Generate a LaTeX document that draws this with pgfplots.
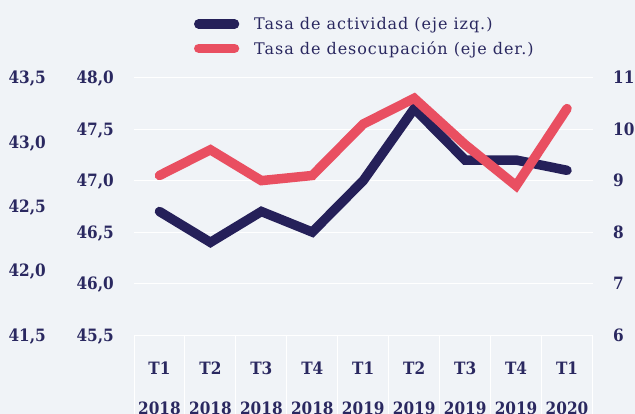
\documentclass[border=0pt]{standalone}
\usepackage{pgfplots}
\pgfplotsset{compat=1.18}
\usepackage{fontspec}
\setmainfont{DejaVu Serif}
\newfontfamily\tickfont{DejaVu Serif Condensed}
\newfontfamily\legfont{DejaVu Serif}[LetterSpace=6]
\definecolor{bgc}{HTML}{F0F3F7}
\definecolor{navyc}{HTML}{252059}
\definecolor{redc}{HTML}{E94F61}
\definecolor{txtc}{HTML}{2A2860}
\newcommand{\tlfont}{\tickfont\bfseries\fontsize{17bp}{20bp}\selectfont}
\pgfplotsset{
  base/.style={
    at={(134bp,79bp)}, anchor=south west,
    width=458.5bp, height=257.3bp, scale only axis,
    xmin=-0.5, xmax=8.5,
    axis line style={draw=none},
    ytick style={draw=none},
    major tick length=0pt,
  }
}
\begin{document}
\begin{tikzpicture}
\fill[bgc] (0,0) rectangle (635bp,414bp);
% outer left axis (labels only)
\begin{axis}[base,
  ymin=41.5, ymax=43.5,
  xtick=\empty,
  ytick={41.5,42,42.5,43,43.5},
  yticklabels={{41,5},{42,0},{42,5},{43,0},{43,5}},
  yticklabel style={font=\tlfont, text=txtc, inner sep=0pt, anchor=base east, xshift=-88bp, yshift=-6.2bp},
]
\addplot[draw=none] coordinates {(0,42)};
\end{axis}
% main axis: Tasa de actividad
\begin{axis}[base,
  ymin=45.5, ymax=48,
  ytick={45.5,46,46.5,47,47.5,48},
  yticklabels={{45,5},{46,0},{46,5},{47,0},{47,5},{48,0}},
  yticklabel style={font=\tlfont, text=txtc, inner sep=0pt, anchor=base east, xshift=-20bp, yshift=-6.2bp},
  ymajorgrids, major grid style={draw=white, line width=1bp},
  xtick pos=left,
  xtick={0,...,8},
  xticklabels={{T1\\2018},{T2\\2018},{T3\\2018},{T4\\2018},{T1\\2019},{T2\\2019},{T3\\2019},{T4\\2019},{T1\\2020}},
  xticklabel style={align=center, anchor=north, inner sep=0pt, text=txtc, yshift=-26.4bp, font=\tickfont\bfseries\fontsize{17bp}{40bp}\selectfont},
  major x tick style={draw=none},
  minor xtick={-0.5,0.5,1.5,2.5,3.5,4.5,5.5,6.5,7.5,8.5},
  minor x tick style={draw=white, line width=1bp},
  minor tick length=90bp,
  tick align=outside,
]
\addplot[navyc, line width=9.5bp, line cap=round, line join=miter] coordinates {
(0,46.7) (1,46.4) (2,46.7) (3,46.5) (4,47.0) (5,47.7) (6,47.2) (7,47.2) (8,47.1)};
\end{axis}
% right axis: Tasa de desocupacion
\begin{axis}[base,
  ymin=6, ymax=11,
  axis y line*=right,
  xtick=\empty,
  ytick={6,7,8,9,10,11},
  yticklabels={6,7,8,9,10,11},
  yticklabel style={font=\tlfont, text=txtc, inner sep=0pt, anchor=base west, xshift=20.5bp, yshift=-6.2bp},
]
\addplot[redc, line width=9.5bp, line cap=round, line join=miter] coordinates {
(0,9.1) (1,9.6) (2,9.0) (3,9.1) (4,10.1) (5,10.6) (6,9.7) (7,8.9) (8,10.4)};
\end{axis}
% legend
\draw[navyc, line width=9.5bp, line cap=round] (198.75bp,390bp) -- (234.5bp,390bp);
\draw[redc, line width=9.5bp, line cap=round] (198.75bp,365.7bp) -- (234.5bp,365.7bp);
\node[anchor=base west, inner sep=0pt, text=txtc, font=\legfont\fontsize{16bp}{19bp}\selectfont] at (254bp,384bp) {Tasa de actividad (eje izq.)};
\node[anchor=base west, inner sep=0pt, text=txtc, font=\legfont\fontsize{16bp}{19bp}\selectfont] at (254bp,359.7bp) {Tasa de desocupación (eje der.)};
\pgfresetboundingbox
\path[use as bounding box] (0,0) rectangle (635bp,414bp);
\end{tikzpicture}
\end{document}
